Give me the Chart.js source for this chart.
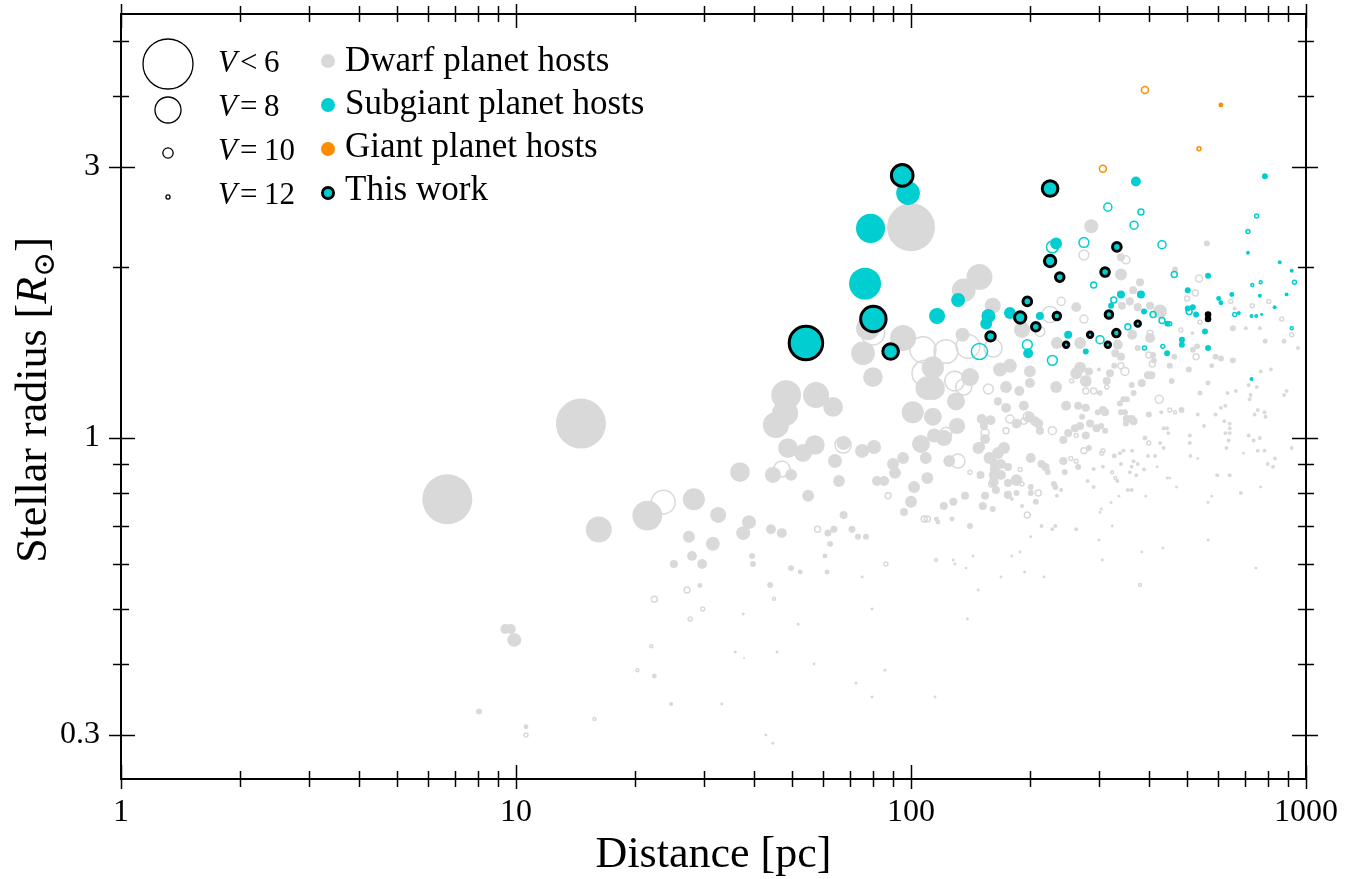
<!DOCTYPE html>
<html>
<head>
<meta charset="utf-8">
<title>Stellar radius vs distance</title>
<script src="https://cdn.jsdelivr.net/npm/chart.js@4.4.1/dist/chart.umd.min.js"></script>
<style>
  html, body { margin: 0; padding: 0; background: #fff; }
  #wrap { width: 1354px; height: 879px; }
</style>
</head>
<body>
<div id="wrap"><canvas id="chart" width="1354" height="879"></canvas></div>
<script>
// each point: [distance (pc), stellar radius (Rsun), V magnitude]
const dwarfFilled = [
  [14.6,1.06,6.5],[6.7,0.78,6.5],[16.2,0.69,8.0],[21.5,0.73,7.7],[28.2,0.78,8.35],[27.4,0.67,9.7],[27.9,0.62,10.1],
  [29.6,0.60,10.1],[25.1,0.60,10.55],[29.2,0.55,11.6],[9.4,0.461,10.1],[9.7,0.461,10.1],[9.9,0.441,9.35],
  [22.4,0.381,11.6],[24.7,0.34,12.1],[8.06,0.33,11.2],[10.6,0.31,11.6],
  [100,2.35,6.67],[77.8,1.56,8.2],[95.5,1.50,8.0],[75.6,1.41,8.2],[80.1,1.28,8.6],[48.3,1.19,7.7],[57.5,1.19,8.0],
  [48.0,1.106,8.0],[45.5,1.054,8.0],[63.5,1.134,8.6],[100.6,1.11,9.7],
  [48.8,0.960,8.6],[53.3,0.941,8.8],[57.1,0.972,8.6],[67.5,0.98,9.35],[75.2,0.949,9.35],[80.6,0.964,9.35],
  [36.9,0.871,8.6],[44.7,0.861,9.05],[49.7,0.861,9.7],[64.2,0.911,9.35],[65.7,0.840,9.7],[54.9,0.791,9.7],
  [82.0,0.840,10.1],[85.5,0.840,10.1],[90.0,0.900,9.7],[95.5,0.922,9.7],[91.1,0.868,9.7],[96,0.741,10.55],
  [32.5,0.732,9.05],[38.9,0.711,9.35],[37.6,0.680,9.35],[44.2,0.691,10.1],[47.1,0.680,10.1],[31.5,0.651,9.35],
  [61.6,0.680,10.85],[63.8,0.691,10.85],[62.4,0.651,11.2],[67.5,0.732,10.55],[70.9,0.691,10.85],[73.4,0.670,11.2],
  [76.9,0.670,11.2],[39.6,0.620,11.2],[39.8,0.600,11.2],[60.6,0.620,11.6],[49.7,0.590,11.2],[52.4,0.581,11.6],
  [61.3,0.581,11.6],[75.2,0.569,12.7],[44.0,0.551,11.2],[37.6,0.490,12.7],[79.7,0.500,12.7],[51.8,0.470,12.7],
  [35.9,0.420,12.7],[37.8,0.410,13.5],[45.8,0.420,12.7],[56.8,0.400,12.7],[85.9,0.39,12.7],[72.6,0.370,12.7],
  [79.7,0.350,12.7],[33.2,0.34,12.7],[42.9,0.30,12.7],[44.7,0.290,12.7],
  [127.8,0.610,12.7],[129.2,0.600,12.7],[143.5,0.620,12.7],[137.8,0.590,12.7],[180,0.620,12.7],[188.7,0.630,12.7],
  [201,0.670,12.7],[169,0.569,12.7],[194,0.581,12.7],[217,0.569,12.7],[148,0.540,12.7],[139,0.480,12.7],
  [115,0.350,12.7],[299,0.661,12.7],[305,0.610,12.7],[384,0.630,12.7],[434,0.640,12.7],[565,0.661,12.7],[747,0.590,12.7],
  [113.6,1.33,8.35],[110,1.224,8.2],[113.6,1.224,8.2],[141,1.28,8.8],[130,1.16,8.8],[101,1.11,8.35],[113.6,1.09,8.8],
  [130.8,1.05,9.05],[114.4,1.01,9.35],[121.2,1.0,9.05],[106,0.976,8.8],[109,0.922,9.7],[125,0.911,9.7],[110,0.850,9.7],
  [101.8,0.820,9.7],[100,0.772,9.7],[121,0.759,10.55],[128,0.772,10.55],[137,0.791,10.55],[154,0.791,10.55],
  [152,0.759,10.55],[161,0.75,11.2],[116,0.72,11.6],[117,0.711,11.6],[127,0.72,11.6],[141,0.70,11.2],
  [149.6,0.964,10.1],[154,0.996,10.1],[163,0.900,10.1],[163,0.882,10.1],[158,0.922,9.7],[166,0.941,9.7],[172,0.960,9.7],
  [148,0.960,9.7],[169,0.900,10.1],[176,0.889,10.55],[162,0.861,10.1],[169,0.861,10.1],[162,0.837,10.1],[164,0.810,10.55],
  [176,0.833,10.55],[185,0.843,9.7],[176,0.794,10.55],[185,0.800,11.2],[201,0.820,11.2],[201,0.800,11.2],[207,0.772,11.2],
  [232,0.820,11.2],[230,0.830,11.2],[240,0.810,12.1],[234,0.791,12.1],[191,0.759,12.1],[180,0.781,12.1],[214,0.700,12.1],
  [232,0.700,12.1],[262,0.691,12.1],[228,0.691,12.1],[201,0.922,10.1],[214,0.900,10.55],[219,0.889,10.55],[222,0.871,11.2],
  [243,0.911,10.55],[245,0.871,11.2],[265,0.889,11.2],[290,0.882,12.1],[280,0.840,12.1],[290,0.820,12.1],[243,0.992,10.55],
  [260,1.04,10.55],[268,1.05,10.55],[277,1.01,10.55],[282,0.960,11.2],[284,1.06,10.55],[295,1.04,10.55],[271,1.09,11.2],
  [250,1.02,10.55],[212,1.03,10.55],[247,1.14,10.1],[265,1.14,10.55],[277,1.13,10.55],[297,1.11,11.2],[233,1.23,9.7],
  [262,1.30,9.7],[268,1.33,9.7],[277,1.26,9.7],[282,1.31,10.55],[299,1.32,12.1],[299,1.20,12.1],[200,1.09,10.1],
  [206,1.07,10.1],[210,1.06,10.1],[185,1.06,10.1],[193,1.14,10.1],[174,1.13,10.1],[166,1.16,10.55],[178,1.34,9.35],
  [168,1.32,9.35],[200,1.31,9.7],[200,1.25,10.1],[188,1.21,10.1],[174,1.23,9.7],[151,1.08,10.1],[159,1.075,10.1],
  [153,1.05,10.55],[150,0.861,10.55],[234,1.47,9.7],[268,1.47,9.7],
  [286,2.36,9.35],[149,1.92,8.0],[136,1.82,8.2],[161,1.71,9.05],[135,1.52,9.35],[262,1.70,10.1],[191,1.55,9.05],[234,1.48,10.55],
  [561,2.20,11.2],[340,2.08,10.55],[340,1.94,9.7],[466,1.98,11.2],[380,1.88,10.55],[365,1.82,10.55],[358,1.74,10.55],
  [342,1.71,10.55],[375,1.70,10.55],[427,1.67,9.35],[403,1.71,10.55],[660,1.69,12.1],[704,1.56,12.1],[764,1.56,12.1],
  [653,1.56,11.2],[516,1.53,12.1],[527,1.45,12.1],[363,1.52,10.1],[403,1.50,10.1],[334,1.46,10.1],
  [329,1.41,10.55],[340,1.39,10.55],[375,1.44,11.2],[410,1.40,11.2],[464,1.39,11.2],[517,1.43,11.2],[530,1.45,11.2],
  [590,1.39,11.2],[609,1.38,11.2],[653,1.37,11.2],[788,1.48,11.6],[880,1.48,11.6],[954,1.44,12.1],[327,1.34,11.2],
  [412,1.37,11.2],[452,1.34,11.2],[505,1.32,11.2],[577,1.34,11.6],[319,1.30,10.55],[313,1.26,10.55],[398,1.29,10.55],
  [406,1.29,10.55],[384,1.25,10.55],[362,1.24,11.2],[457,1.26,11.2],[565,1.25,11.6],[366,1.20,11.2],[539,1.20,11.6],
  [716,1.24,12.1],[750,1.23,12.1],[768,1.31,12.1],[815,1.32,12.1],[633,1.20,12.1],[664,1.21,12.1],[724,1.19,12.1],
  [720,1.17,12.1],[880,1.19,12.1],[893,1.21,12.1],[338,1.15,11.2],[345,1.17,11.2],[352,1.17,11.2],[306,1.12,10.55],
  [310,1.11,10.55],[340,1.11,11.2],[348,1.11,11.2],[400,1.10,11.2],[430,1.11,12.1],[484,1.12,11.2],[532,1.10,12.1],
  [590,1.10,12.1],[609,1.13,12.1],[625,1.14,12.1],[755,1.12,12.1],[785,1.11,12.1],[790,1.09,12.1],[741,1.10,12.1],
  [352,1.08,10.55],[362,1.08,10.55],[366,1.07,10.55],[350,1.06,11.2],[303,1.05,11.2],[310,1.03,11.2],[621,1.07,12.1],
  [641,1.06,12.1],[552,1.05,12.1],[436,1.04,12.1],[445,1.04,12.1],[448,1.02,12.1],[625,1.02,12.1],[641,1.04,12.1],
  [641,1.02,12.1],[391,1.00,11.6],[508,1.01,12.1],[716,1.01,12.1],[737,0.99,12.1],[764,1.00,12.1],[637,0.99,12.1],
  [427,0.98,12.1],[436,0.96,12.1],[508,0.98,12.1],[629,0.96,12.1],[755,0.95,12.1],[785,0.95,12.1],[695,0.94,12.7],
  [920,0.96,12.1],[345,0.95,12.1],[363,0.95,12.1],[338,0.94,12.1],[327,0.93,11.6],[398,0.93,12.1],[415,0.93,12.1],
  [510,0.93,12.1],[532,0.92,12.7],[834,0.92,12.1],[366,0.91,12.1],[375,0.90,12.1],[340,0.90,12.1],[800,0.90,12.1],
  [825,0.89,12.1],[306,0.89,12.1],[362,0.89,12.1],[420,0.89,12.7],[389,0.88,12.1],[358,0.87,12.1],[372,0.86,12.1],
  [445,0.85,12.7],[452,0.85,12.7],[596,0.86,12.1],[641,0.86,12.1],[333,0.84,12.1],[470,0.82,12.7],[768,0.82,12.7],
  [354,0.81,12.1],[362,0.81,12.1],[684,0.80,12.1],[336,0.79,12.7],[393,0.79,12.7],[577,0.79,12.7],[565,0.77,12.7],
  [321,0.77,12.7],[303,0.75,12.7],[301,0.74,12.7],[323,0.70,12.7]
];

const dwarfOpen = [
  [23.6,0.771,8.2],[27.1,0.54,11.2],[22.4,0.52,11.2],[29.7,0.50,12.1],[27.6,0.48,12.1],[22.0,0.43,12.7],
  [20.3,0.39,12.7],[15.8,0.32,12.7],[10.6,0.30,12.1],
  [80,1.53,8.2],[67.3,0.972,9.05],[47.1,0.882,9.05],[87.5,0.791,11.2],[58.0,0.691,11.2],[86.4,0.600,12.1],[45.0,0.521,12.7],
  [107.2,1.43,8.0],[122.6,1.42,8.2],[139.4,1.45,8.2],[161.4,1.44,8.8],[108.5,1.30,8.0],[129,1.26,8.6],[136,1.23,9.05],
  [122.6,1.02,9.7],[131.5,0.911,9.35],[108,0.720,11.2],[110,0.720,11.2],[197,0.732,11.2],[160,0.83,11.2],[189,0.88,12.1],
  [191,0.83,12.1],[210,0.80,11.2],[254,0.92,12.1],[262,0.91,12.1],[274,0.95,11.2],[262,1.01,12.1],[228,1.03,10.55],
  [255,1.26,12.1],[277,1.21,11.2],[290,1.21,11.2],[198,1.09,10.1],[193,1.07,11.2],[157,1.22,10.1],[154,1.02,10.55],
  [174,1.03,11.2],[178,1.08,10.55],[141,0.87,12.1],
  [274,2.10,10.1],[240,1.74,10.55],[274,1.62,10.55],[225,1.65,9.05],[212,1.54,10.1],
  [350,2.06,10.55],[536,1.91,10.85],[525,1.80,11.2],[500,1.76,11.6],[645,1.74,12.1],[539,1.60,12.1],[731,1.71,12.1],
  [805,1.74,12.1],[868,1.62,12.1],[482,1.55,12.1],[488,1.49,12.1],[403,1.53,11.2],[920,1.52,12.1],
  [400,1.40,11.2],[527,1.39,11.2],[340,1.34,11.2],[348,1.31,10.55],[408,1.35,11.2],[313,1.23,12.1],[301,1.20,12.1],
  [425,1.17,10.55],[452,1.12,12.1],[466,1.11,12.7],[400,0.98,12.1],[306,0.95,12.1],[304,0.94,12.1],[323,0.87,12.7],
  [329,0.85,12.7],[115.7,0.610,12.7],[380,0.551,12.7]
];

const subgiantFilled = [
  [98.3,2.70,8.2],[79,2.34,7.75],[76.5,1.87,7.55],[131.6,1.75,9.35],[116.4,1.64,9.05],[157,1.64,9.35],[155,1.59,9.7],
  [178,1.66,9.7],[212,1.64,10.55],[233,2.20,9.7],[250,1.52,10.55],[198,1.41,10.1],[277,1.42,11.2],
  [371,2.83,10.1],[787,2.89,11.2],[713,2.12,12.1],[858,2.04,12.1],[920,1.97,12.1],[565,1.93,11.2],[502,1.82,11.2],
  [340,1.79,10.55],[382,1.79,10.55],[649,1.79,11.6],[601,1.76,11.6],[609,1.73,11.6],[321,1.71,11.2],[389,1.67,11.2],
  [502,1.69,11.2],[517,1.70,11.2],[527,1.65,11.2],[676,1.66,12.1],[764,1.78,12.1],[893,1.79,12.1],[833,1.70,12.1],
  [728,1.64,12.1],[748,1.64,12.1],[772,1.65,12.7],[555,1.54,11.2],[485,1.49,11.2],[485,1.46,11.2],[446,1.59,11.2],
  [445,1.41,11.2],[565,1.44,11.2],[728,1.27,12.1]
];

const subgiantOpen = [
  [274,2.21,10.1],[228,2.17,9.7],[290,1.86,11.2],[149,1.42,9.05],[197,1.46,10.1],[228,1.37,10.1],[315,2.55,10.55],
  [382,2.50,11.2],[367,2.37,10.55],[750,2.46,12.1],[713,2.31,12.1],[432,2.19,10.55],[464,1.94,11.2],[326,1.75,11.2],
  [410,1.65,11.2],[660,1.65,12.1],[768,1.88,12.7],[731,1.86,12.7],[935,1.88,12.1],[920,1.56,12.7],[434,1.45,12.1],
  [390,1.44,12.1],[354,1.57,11.2],[301,1.49,10.55],[432,1.61,11.2],[452,1.59,12.1],[506,1.67,11.2]
];

const giantFilled = [[609,3.86,11.6]];
const giantOpen = [[391,4.10,10.85],[536,3.23,12.1],[306,2.98,10.85]];

const thisWork = [
  [95,2.90,8.4],[80.3,1.62,8.05],[54.2,1.47,7.45],[88.8,1.42,9.1],[225,2.75,9.1],[225,2.05,9.8],[238,1.92,10.4],
  [159,1.51,10.2],[189,1.63,9.8],[197,1.74,10.4],[207,1.57,10.4],[234,1.64,10.7],[284,1.52,11.4],[247,1.46,11.4],
  [332,2.17,10.4],[310,1.96,10.4],[317,1.65,10.7],[331,1.53,10.7],[375,1.59,11.4],[315,1.46,11.4],[565,1.65,12.3],[565,1.62,12.3]
];

const xTickValues = [1,2,3,4,5,6,7,8,9,10,20,30,40,50,60,70,80,90,100,200,300,400,500,600,700,800,900,1000];
const xLabelValues = [1, 10, 100, 1000];
const yTickValues = [0.3,0.4,0.5,0.6,0.7,0.8,0.9,1,2,3,4,5];
const yLabelValues = [0.3, 1, 3];

const sizeKeyV = [6, 8, 10, 12];
const sizeKeyText = [['<', '6'], ['=', '8'], ['=', '10'], ['=', '12']];
const colorKeyText = ['Dwarf planet hosts', 'Subgiant planet hosts', 'Giant planet hosts', 'This work'];

const GRAY = '#d9d9d9';
const CYAN = '#00ced1';
const ORANGE = '#ff8c00';
const SERIF = '"Liberation Serif", "Times New Roman", serif';

// marker radius from V magnitude (brighter -> bigger), capped for V<6
function sizeFromV(v) {
  return Math.min(25, 13 * Math.pow(10, -0.2 * (v - 8)));
}

function makeSet(points, color, open, order) {
  return {
    data: points.map(p => ({ x: p[0], y: p[1] })),
    order: order,
    pointRadius: ctx => sizeFromV(points[ctx.dataIndex][2]),
    pointHoverRadius: ctx => sizeFromV(points[ctx.dataIndex][2]),
    pointBackgroundColor: open ? 'rgba(0,0,0,0)' : color,
    pointBorderColor: color,
    pointBorderWidth: open ? 1.5 : 0,
    pointHoverBorderWidth: open ? 1.5 : 0
  };
}

const workSet = {
  data: thisWork.map(p => ({ x: p[0], y: p[1] })),
  order: 0,
  pointRadius: ctx => sizeFromV(thisWork[ctx.dataIndex][2]),
  pointHoverRadius: ctx => sizeFromV(thisWork[ctx.dataIndex][2]),
  pointBackgroundColor: CYAN,
  pointBorderColor: '#000',
  pointBorderWidth: 3,
  pointHoverBorderWidth: 3
};

const frameAndKey = {
  id: 'frameAndKey',
  afterDraw(chart) {
    const { ctx, chartArea: a, scales } = chart;
    const xs = scales.x, ys = scales.y;
    ctx.save();
    ctx.strokeStyle = '#000';
    ctx.lineWidth = 2;
    ctx.strokeRect(a.left, a.top, a.right - a.left, a.bottom - a.top);

    const seg = (x1, y1, x2, y2) => {
      ctx.beginPath(); ctx.moveTo(x1, y1); ctx.lineTo(x2, y2); ctx.stroke();
    };
    ctx.lineWidth = 1.5;
    xTickValues.forEach(v => {
      const px = Math.round(xs.getPixelForValue(v)) + 0.5;
      const major = xLabelValues.includes(v);
      const inn = major ? 14 : 8, out = major ? 10 : 8;
      seg(px, a.bottom - inn, px, a.bottom + out);
      seg(px, a.top + inn, px, a.top - out);
    });
    yTickValues.forEach(v => {
      const py = Math.round(ys.getPixelForValue(v)) + 0.5;
      const major = yLabelValues.includes(v);
      const inn = major ? 14 : 8, out = major ? 12 : 8;
      seg(a.left - out, py, a.left + inn, py);
      seg(a.right - inn, py, a.right + out, py);
    });

    // axis titles
    ctx.fillStyle = '#000';
    ctx.textBaseline = 'alphabetic';
    ctx.font = '44px ' + SERIF;
    ctx.textAlign = 'center';
    ctx.fillText('Distance [pc]', (a.left + a.right) / 2, 867);

    ctx.save();
    ctx.translate(46, 400);
    ctx.rotate(-Math.PI / 2);
    ctx.textAlign = 'left';
    const parts = [
      { t: 'Stellar radius [', f: '44px ' + SERIF, dy: 0 },
      { t: 'R', f: 'italic 44px ' + SERIF, dy: 0 },
      { t: '\u2299', f: '30px "DejaVu Serif", ' + SERIF, dy: 8 },
      { t: ']', f: '44px ' + SERIF, dy: 0 }
    ];
    let total = 0;
    parts.forEach(p => { ctx.font = p.f; p.w = ctx.measureText(p.t).width; total += p.w; });
    let cx = -total / 2;
    parts.forEach(p => { ctx.font = p.f; ctx.fillText(p.t, cx, p.dy); cx += p.w; });
    ctx.restore();

    // size key
    ctx.textAlign = 'left';
    const keyY = [64, 110, 153, 197];
    const keyBase = [72, 116, 160, 204];
    sizeKeyV.forEach((v, i) => {
      ctx.beginPath();
      ctx.arc(168, keyY[i], sizeFromV(v), 0, Math.PI * 2);
      ctx.lineWidth = 1.3;
      ctx.strokeStyle = '#000';
      ctx.stroke();
      ctx.font = 'italic 31px ' + SERIF;
      ctx.fillText('V', 218, keyBase[i]);
      ctx.font = '31px ' + SERIF;
      ctx.fillText(sizeKeyText[i][0], 240, keyBase[i]);
      ctx.fillText(sizeKeyText[i][1], 264, keyBase[i]);
    });

    // colour key
    const colY = [61, 105, 149, 193];
    const colBase = [71, 114, 157, 200];
    const colFill = [GRAY, CYAN, ORANGE, CYAN];
    colorKeyText.forEach((t, i) => {
      ctx.beginPath();
      ctx.arc(328, colY[i], i === 3 ? 5.5 : 7, 0, Math.PI * 2);
      ctx.fillStyle = colFill[i];
      ctx.fill();
      if (i === 3) { ctx.lineWidth = 3; ctx.strokeStyle = '#000'; ctx.stroke(); }
      ctx.fillStyle = '#000';
      ctx.font = '35px ' + SERIF;
      ctx.fillText(t, 345, colBase[i]);
    });
    ctx.restore();
  }
};

new Chart(document.getElementById('chart'), {
  type: 'scatter',
  data: {
    datasets: [
      workSet,
      makeSet(giantFilled, ORANGE, false, 1),
      makeSet(giantOpen, ORANGE, true, 2),
      makeSet(subgiantFilled, CYAN, false, 3),
      makeSet(subgiantOpen, CYAN, true, 4),
      makeSet(dwarfFilled, GRAY, false, 5),
      makeSet(dwarfOpen, GRAY, true, 6)
    ]
  },
  options: {
    responsive: false,
    animation: false,
    devicePixelRatio: 1,
    events: [],
    layout: { autoPadding: false, padding: { left: 0, right: 48, top: 14, bottom: 0 } },
    plugins: { legend: { display: false }, tooltip: { enabled: false } },
    scales: {
      x: {
        type: 'logarithmic', min: 1, max: 1000,
        grid: { display: false, drawTicks: false, tickLength: 0 },
        border: { display: false },
        afterBuildTicks: s => { s.ticks = xTickValues.map(v => ({ value: v })); },
        afterFit: s => { s.height = 100; s.paddingLeft = 0; s.paddingRight = 0; },
        ticks: {
          autoSkip: false, maxRotation: 0, minRotation: 0, padding: 14, color: '#000',
          font: { family: SERIF, size: 32 },
          callback: v => xLabelValues.includes(v) ? String(v) : ''
        }
      },
      y: {
        type: 'logarithmic', min: 0.2509, max: 5.58,
        grid: { display: false, drawTicks: false, tickLength: 0 },
        border: { display: false },
        afterBuildTicks: s => { s.ticks = yTickValues.map(v => ({ value: v })); },
        afterFit: s => { s.width = 121; s.paddingTop = 0; s.paddingBottom = 0; },
        ticks: {
          autoSkip: false, padding: 21, color: '#000',
          font: { family: SERIF, size: 32 },
          callback: v => yLabelValues.includes(v) ? String(v) : ''
        }
      }
    }
  },
  plugins: [frameAndKey]
});
</script>
</body>
</html>
